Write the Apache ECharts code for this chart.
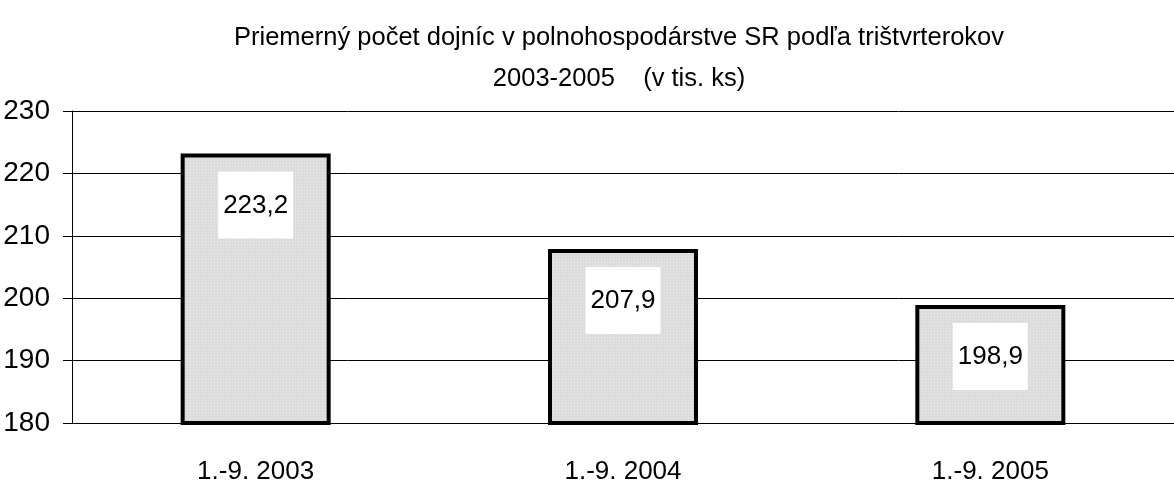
<!DOCTYPE html>
<html>
<head>
<meta charset="utf-8">
<script src="https://cdn.jsdelivr.net/npm/echarts@6/dist/echarts.min.js"></script>
<style>
    html, body {margin: 0; padding: 0; background: #fff;}
    #chart {width: 1174px; height: 486px;}
</style>
</head>
<body>
<div id="chart"></div>
<script>
const categories = ["1.-9. 2003", "1.-9. 2004", "1.-9. 2005"];
const values = [223.2, 207.9, 198.9];
const valueLabels = ["223,2", "207,9", "198,9"];
const yTicks = {min: 180, max: 230, interval: 10};

const FONT = "'Liberation Sans', Arial, sans-serif";

// small dotted tile, like the old office fill pattern
function dotPattern() {
    const c = document.createElement("canvas");
    c.width = 3;
    c.height = 3;
    const ctx = c.getContext("2d");
    ctx.fillStyle = "#dcdcdc";
    ctx.fillRect(0, 0, 3, 3);
    ctx.fillStyle = "#eeeeee";
    ctx.fillRect(1, 1, 1, 1);
    return c;
}

const chart = echarts.init(document.getElementById("chart"));

chart.setOption({
    backgroundColor: "#fff",
    animation: false,
    title: {
        text: "Priemerný počet dojníc v polnohospodárstve SR podľa trištvrterokov\n2003-2005    (v tis. ks)",
        left: 614,
        top: 12,
        textAlign: "center",
        textStyle: {fontFamily: FONT, fontSize: 25.5, fontWeight: "normal", color: "#000", lineHeight: 41}
    },
    grid: {left: 72, right: 0, top: 111, bottom: 63},
    xAxis: {
        type: "category",
        data: categories,
        axisLine: {lineStyle: {color: "#000", width: 1}},
        axisTick: {show: false},
        axisLabel: {fontFamily: FONT, fontSize: 26, color: "#000", margin: 36}
    },
    yAxis: {
        type: "value",
        min: yTicks.min,
        max: yTicks.max,
        interval: yTicks.interval,
        axisLine: {show: true, lineStyle: {color: "#000", width: 1}},
        axisTick: {show: true, length: 9, lineStyle: {color: "#000"}},
        splitLine: {lineStyle: {color: "#000", width: 1}},
        axisLabel: {fontFamily: FONT, fontSize: 28, color: "#000", margin: 22}
    },
    series: [{
        type: "bar",
        data: values,
        barWidth: 150,
        itemStyle: {
            color: {image: dotPattern(), repeat: "repeat"},
            borderColor: "#000",
            borderWidth: 4
        },
        label: {
            show: true,
            position: "insideTop",
            distance: 18,
            formatter: p => valueLabels[p.dataIndex],
            backgroundColor: "#fff",
            padding: [18, 5, 17, 5],
            fontFamily: FONT,
            fontSize: 26,
            lineHeight: 32,
            color: "#000"
        }
    }]
});
</script>
</body>
</html>
